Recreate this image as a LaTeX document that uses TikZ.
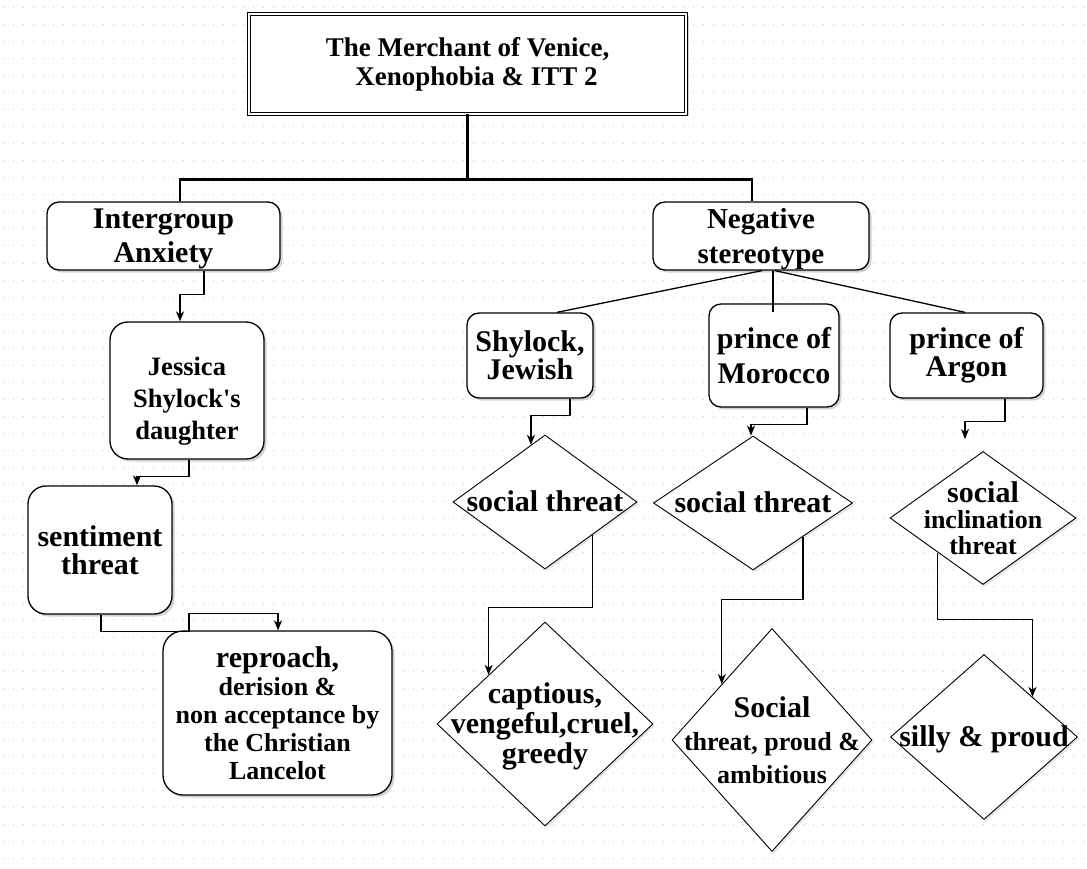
\documentclass[tikz,border=0pt]{standalone}
\usepackage{fontspec}
\setmainfont{Liberation Serif}
\usetikzlibrary{arrows.meta,shapes.geometric,shadows,calc}

\newcommand{\dtxt}[1]{\makebox[0pt]{\smash{\raisebox{-10pt}{\begin{tabular}{@{}c@{}}#1\end{tabular}}}}}

\begin{document}
\begin{tikzpicture}[x=1pt,y=-1pt]
        \tikzset{title/.style = {shape=rectangle,draw,double,double distance=2.2pt,line width=1pt,fill=white,align=center,inner sep=0pt,drop shadow={shadow xshift=2.5pt,shadow yshift=-2.5pt,fill=black!35},font=\fontsize{27}{29}\selectfont\bfseries}}
        \tikzset{box/.style = {shape=rectangle,draw,line width=1.3pt,rounded corners=12pt,fill=white,align=center,inner sep=0pt,drop shadow={shadow xshift=2.5pt,shadow yshift=-2.5pt,fill=black!35},font=\fontsize{30}{32}\selectfont\bfseries}}
        \tikzset{dia/.style = {shape=diamond,draw,line width=0.9pt,fill=white,inner sep=0pt,drop shadow={shadow xshift=2pt,shadow yshift=-2pt,fill=black!20},font=\fontsize{30}{30}\selectfont\bfseries}}
        \tikzset{trunk/.style = {line width=2.6pt}}
        \tikzset{link/.style = {line width=1.3pt}}
        \tikzset{flow/.style = {-{Stealth[length=10pt,width=8pt,inset=3pt]},line width=1.1pt}}
        \useasboundingbox (0,0) rectangle (1087,869);
        % dotted grid
        \fill[white] (0,0) rectangle (1087,869);
        \foreach \y in {8,25,...,869}
            \draw[black!22,line width=1pt,dash pattern=on 1pt off 9pt] (3,\y) -- (1087,\y);
        % boxes
        \node[title,minimum width=437pt,minimum height=100pt] (title) at (467.5,64) {The Merchant of Venice,\\\hspace*{18pt}Xenophobia \& ITT 2};
        \node[box,minimum width=233pt,minimum height=68pt,font=\fontsize{30}{34}\selectfont\bfseries] (anx) at (163.5,236) {\rule{0pt}{26pt}Intergroup\\Anxiety};
        \node[box,minimum width=216pt,minimum height=68pt,font=\fontsize{29}{35}\selectfont\bfseries] (neg) at (761,236) {\rule{0pt}{26pt}Negative\\stereotype};
        \node[box,rounded corners=18pt,minimum width=154pt,minimum height=137pt,font=\fontsize{26.5}{32}\selectfont\bfseries] (jess) at (187,390.5) {\rule{0pt}{40pt}Jessica\\Shylock\textquotesingle s\\daughter};
        \node[box,rounded corners=18pt,minimum width=144pt,minimum height=128pt,font=\fontsize{30}{28}\selectfont\bfseries] (senti) at (100,550) {sentiment\\threat};
        \node[box,rounded corners=20pt,minimum width=229pt,minimum height=164pt,font=\fontsize{26}{28}\selectfont\bfseries] (repro) at (277.5,713) {{\fontsize{30}{28}\selectfont reproach,}\\derision \&\\non acceptance by\\the Christian\\Lancelot};
        \node[box,minimum width=126pt,minimum height=85pt,font=\fontsize{30}{28}\selectfont\bfseries] (shy) at (530,355.5) {Shylock,\\Jewish};
        \node[box,minimum width=130pt,minimum height=103pt,font=\fontsize{30}{35}\selectfont\bfseries] (mor) at (774,355.5) {prince of\\Morocco};
        \node[box,minimum width=153pt,minimum height=85pt,font=\fontsize{30}{28}\selectfont\bfseries] (arg) at (966.5,355.5) {prince of\\Argon};
        % diamonds
        \node[dia,minimum width=184pt,minimum height=134pt] (st1) at (545,502) {\dtxt{social threat}};
        \node[dia,minimum width=199pt,minimum height=134pt] (st2) at (753,503) {\dtxt{social threat}};
        \node[dia,minimum width=186pt,minimum height=133pt,font=\fontsize{26}{26}\selectfont\bfseries] (st3) at (983,518) {\dtxt{{\fontsize{30}{26}\selectfont social}\\inclination\\threat}};
        \node[dia,minimum width=216pt,minimum height=204pt] (cap) at (545,724) {\dtxt{captious,\\vengeful,cruel,\\greedy}};
        \node[dia,minimum width=200pt,minimum height=223pt,font=\fontsize{26}{33}\selectfont\bfseries] (amb) at (772,740) {\dtxt{{\fontsize{30}{33}\selectfont Social}\\threat, proud \&\\ambitious}};
        \node[dia,minimum width=187pt,minimum height=165pt] (silly) at (984,737) {\dtxt{silly \& proud}};
        % connectors
        \draw[trunk] (title.south) -- ++(0,65) -| ([xshift=16.5pt]anx.north);
        \draw[trunk] (title.south) -- ++(0,65) -| ([xshift=-9pt]neg.north);
        \draw[flow] ([xshift=40.5pt]anx.south) -- ++(0,24) -| ([xshift=-7pt]jess.north);
        \draw[flow] ([xshift=2pt]jess.south) -- ++(0,17) -| ([xshift=37pt]senti.north);
        \draw[flow] ([xshift=1pt]senti.south) -- ++(0,17) -- ++(88,0) -- ++(0,-18) -| ([xshift=0.5pt]repro.north);
        \draw[link] ([xshift=1pt]neg.south) -- ([xshift=27pt]shy.north);
        \draw[link] ([xshift=12pt]neg.south) -- ([xshift=-1pt,yshift=-9pt]mor.north);
        \draw[link] ([xshift=14pt]neg.south) -- ([xshift=-1.5pt]arg.north);
        \draw[flow] ([xshift=40pt]shy.south) -- ++(0,17) -| ($(st1.north)!0.152!(st1.west)$);
        \draw[flow] ($(st1.east)!0.49!(st1.south)$) -- ++(0,72) -| ($(cap.north)!0.52!(cap.west)$);
        \draw[flow] ([xshift=33pt]mor.south) -- ++(0,17) -| ([xshift=-2pt]st2.north);
        \draw[flow] ($(st2.east)!0.5!(st2.south)$) -- ++(0,63) -| ($(amb.north)!0.5!(amb.west)$);
        \draw[flow] ([xshift=38.5pt]arg.south) -- ++(0,23) -| ([xshift=-18pt,yshift=12pt]st3.north);
        \draw[flow] ($(st3.south)!0.484!(st3.west)$) -- ++(0,67) -| ($(silly.north)!0.516!(silly.east)$);
\end{tikzpicture}
\end{document}
